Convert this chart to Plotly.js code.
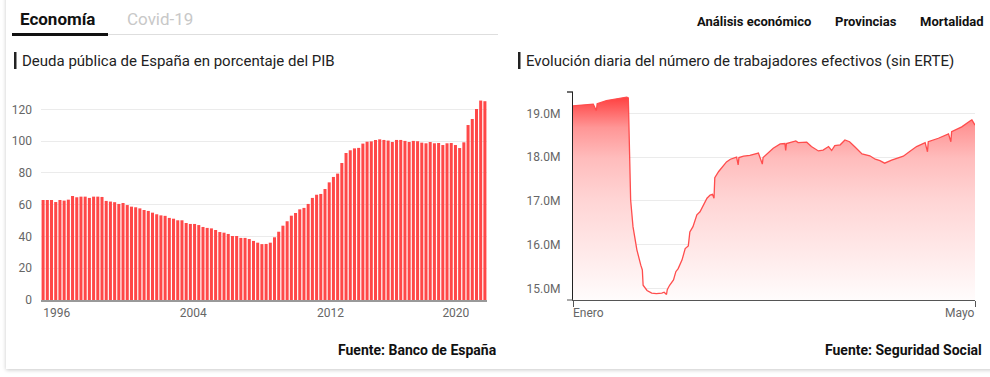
<!DOCTYPE html>
<html>
<head>
<meta charset="utf-8">
<script src="https://cdn.plot.ly/plotly-3.0.1.min.js"></script>
<style>
  html, body { margin: 0; padding: 0; background: #ffffff; overflow: hidden; }
  #card { position: absolute; left: 6px; top: -10px; width: 1000px; height: 379px; background: #fff;
          box-shadow: 0 1px 4px rgba(0,0,0,0.22); }
  #chart { position: absolute; left: 0; top: 0; width: 990px; height: 377px; }
</style>
</head>
<body>
<div id="card"></div>
<div id="chart"></div>
<script>
// ---------- Data: Deuda pública (% PIB), trimestral 1995T1 - 2021T2 ----------
const debtYears = [1995,1996,1997,1998,1999,2000,2001,2002,2003,2004,2005,2006,2007,2008,2009,2010,2011,2012,2013,2014,2015,2016,2017,2018,2019,2020,2021];
const debtValues = [
  63.0, 63.0, 63.0, 61.7,
  63.0, 62.6, 63.2, 65.5,
  64.7, 65.1, 65.1, 64.3,
  65.1, 65.1, 64.9, 62.4,
  62.0, 61.6, 60.5, 61.1,
  59.8, 58.8, 58.4, 57.7,
  56.7, 56.1, 55.0, 54.0,
  53.3, 53.0, 51.7, 51.2,
  50.2, 50.2, 48.5, 47.9,
  47.9, 47.2, 46.0, 45.4,
  45.1, 44.1, 42.8, 42.4,
  41.6, 40.3, 40.3, 39.1,
  39.1, 38.4, 37.2, 36.1,
  35.2, 35.3, 36.1, 39.5,
  43.0, 46.8, 49.6, 53.1,
  54.8, 57.1, 58.0, 60.5,
  64.3, 66.3, 66.8, 69.9,
  74.1, 77.5, 79.6, 86.3,
  92.6, 94.3, 95.5, 95.8,
  98.5, 99.7, 99.9, 100.7,
  101.2, 100.8, 100.4, 99.5,
  100.8, 100.8, 100.2, 99.5,
  100.2, 100.0, 99.1, 98.7,
  99.5, 98.7, 98.9, 97.6,
  98.7, 98.9, 97.6, 95.7,
  99.3, 110.2, 114.0, 120.3,
  125.6, 125.2
];
const debtTickLabels = ['1996', '2004', '2012', '2020'];
const debtTickPos = [3.25, 35.7, 68.3, 98.1];   // position on the quarter index axis
const debtYTicks = [0, 20, 40, 60, 80, 100, 120];

// quarter labels (categories)
const quarterLabels = [];
debtYears.forEach(y => { for (let q = 1; q <= 4; q++) quarterLabels.push(y + 'T' + q); });
quarterLabels.length = debtValues.length;
const quarterIndex = quarterLabels.map((_, i) => i);

// ---------- Data: trabajadores efectivos (millones), diario ----------
const workDates = [
  '2020-01-01','2020-01-06','2020-01-27','2020-01-31','2020-02-01','2020-02-13','2020-02-26','2020-03-10',
  '2020-03-12','2020-03-13','2020-03-15','2020-03-18','2020-03-23','2020-03-28','2020-03-30','2020-03-31',
  '2020-04-05','2020-04-11','2020-04-17','2020-04-24','2020-04-27','2020-04-30','2020-05-01','2020-05-04',
  '2020-05-09','2020-05-12','2020-05-15','2020-05-20','2020-05-24','2020-05-28','2020-05-30','2020-06-03',
  '2020-06-08','2020-06-12','2020-06-16','2020-06-21','2020-06-25','2020-06-28','2020-06-30','2020-07-01',
  '2020-07-06','2020-07-10','2020-07-16','2020-07-21','2020-07-27','2020-07-29','2020-07-31','2020-08-01',
  '2020-08-07','2020-08-15','2020-08-26','2020-08-31','2020-09-01','2020-09-14','2020-09-23','2020-09-29',
  '2020-09-30','2020-10-01','2020-10-13','2020-10-16','2020-10-27','2020-11-02','2020-11-11','2020-11-17',
  '2020-11-24','2020-11-28','2020-12-02','2020-12-09','2020-12-15','2020-12-21','2020-12-28','2021-01-06',
  '2021-01-16','2021-01-23','2021-01-29','2021-02-04','2021-02-13','2021-02-22','2021-02-28','2021-03-09',
  '2021-03-17','2021-03-28','2021-03-31','2021-04-01','2021-04-14','2021-04-27','2021-04-30','2021-05-01',
  '2021-05-14','2021-05-25','2021-05-27','2021-05-31'
];
const workValues = [
  19.17, 19.18, 19.21, 19.06, 19.22, 19.29, 19.33, 19.37,
  19.35, 18.62, 17.02, 16.41, 15.88, 15.53, 15.42, 15.07,
  14.95, 14.89, 14.88, 14.89, 14.91, 14.86, 14.97, 15.07,
  15.19, 15.38, 15.45, 15.65, 15.91, 15.97, 16.29, 16.41,
  16.68, 16.75, 16.90, 17.06, 17.13, 17.15, 17.06, 17.53,
  17.67, 17.75, 17.89, 17.95, 17.99, 18.00, 17.82, 17.99,
  18.02, 18.04, 18.09, 17.84, 17.99, 18.20, 18.30, 18.31,
  18.15, 18.31, 18.37, 18.33, 18.34, 18.24, 18.14, 18.16,
  18.24, 18.15, 18.26, 18.28, 18.39, 18.35, 18.23, 18.07,
  18.03, 17.95, 17.92, 17.86, 17.93, 17.99, 18.02, 18.14,
  18.24, 18.33, 18.12, 18.35, 18.43, 18.53, 18.35, 18.58,
  18.69, 18.83, 18.85, 18.73
];
const workYTicks = [15, 16, 17, 18, 19];
const workXLabels = ['Enero', 'Mayo'];

// ---------- Texts ----------
const tabs = ['Economía', 'Covid-19'];
const navItems = ['Análisis económico', 'Provincias', 'Mortalidad'];
const titleLeft = 'Deuda pública de España en porcentaje del PIB';
const titleRight = 'Evolución diaria del número de trabajadores efectivos (sin ERTE)';
const sourceLeft = 'Fuente: Banco de España';
const sourceRight = 'Fuente: Seguridad Social';

// ---------- Layout helpers (pixel -> paper) ----------
const W = 990, H = 377;
const px = x => x / W;
const py = y => (H - y) / H;

const FONT = 'Roboto, "Open Sans", sans-serif';
const RED = '#ff4848';

const xStart = workDates[0], xEnd = workDates[workDates.length - 1];

const traces = [
  {
    type: 'bar', x: quarterIndex, y: debtValues, text: quarterLabels, textposition: 'none',
    hovertemplate: '%{text}: %{y:.1f}%<extra></extra>',
    marker: { color: RED, line: { width: 0 } },
    xaxis: 'x', yaxis: 'y'
  },
  {
    type: 'scatter', mode: 'lines', x: workDates, y: workValues,
    line: { color: '#ff4d4d', width: 1.3 },
    fill: 'tozeroy',
    fillgradient: {
      type: 'vertical', start: 14.733, stop: 19.37,
      colorscale: [
        [0, 'rgb(255,252,252)'],
        [0.25, 'rgb(255,232,232)'],
        [0.5, 'rgb(255,212,212)'],
        [0.7, 'rgb(255,188,188)'],
        [0.85, 'rgb(255,150,150)'],
        [1, 'rgb(255,64,64)']
      ]
    },
    hovertemplate: '%{x}: %{y:.2f}M<extra></extra>',
    xaxis: 'x2', yaxis: 'y2'
  }
];

const gridC = '#ebebeb';
const tickFont = { family: FONT, size: 12, color: '#666' };

const layout = {
  width: W, height: H,
  margin: { l: 0, r: 0, t: 0, b: 0 },
  paper_bgcolor: 'rgba(0,0,0,0)', plot_bgcolor: 'rgba(0,0,0,0)',
  showlegend: false,
  bargap: 0.28,
  font: { family: FONT },
  xaxis: {
    domain: [px(41), px(487)], range: [-0.5, debtValues.length - 0.5],
    tickmode: 'array', tickvals: debtTickPos, ticktext: debtTickLabels,
    showgrid: false, zeroline: false, showline: true, linecolor: '#999', linewidth: 2,
    ticks: '', tickfont: tickFont, ticklabelstandoff: 1, fixedrange: true
  },
  yaxis: {
    domain: [py(300), py(92)], range: [0, 131],
    tickmode: 'array', tickvals: debtYTicks,
    showgrid: true, gridcolor: gridC, gridwidth: 1, zeroline: false, showline: false,
    ticks: '', tickfont: tickFont, ticklabelstandoff: 8, fixedrange: true
  },
  xaxis2: {
    anchor: 'y2',
    domain: [px(573), px(975)], range: [xStart, xEnd], type: 'date',
    tickmode: 'array', tickvals: [xStart, xEnd], ticktext: ['', ''],
    ticks: 'outside', ticklen: 6, tickcolor: '#555', tickwidth: 1,
    showgrid: false, zeroline: false, showline: true, linecolor: '#555', linewidth: 1, fixedrange: true
  },
  yaxis2: {
    anchor: 'x2',
    domain: [py(300), py(92)], range: [14.733, 19.487],
    tickmode: 'array', tickvals: workYTicks, ticktext: workYTicks.map(v => v.toFixed(1) + 'M'),
    showgrid: true, gridcolor: gridC, gridwidth: 1, zeroline: false,
    showline: true, linecolor: '#222', linewidth: 1.3,
    ticks: '', tickfont: tickFont, ticklabelstandoff: 9, fixedrange: true
  },
  shapes: [
    // tab underline
    { type: 'line', xref: 'paper', yref: 'paper', x0: px(108), x1: px(498), y0: py(34.5), y1: py(34.5), line: { color: '#dedede', width: 1 } },
    { type: 'rect', xref: 'paper', yref: 'paper', x0: px(12), x1: px(108), y0: py(36), y1: py(33), fillcolor: '#111', line: { width: 0 } },
    // title markers
    { type: 'rect', xref: 'paper', yref: 'paper', x0: px(14), x1: px(16.5), y0: py(69), y1: py(52), fillcolor: '#222', line: { width: 0 } },
    { type: 'rect', xref: 'paper', yref: 'paper', x0: px(518), x1: px(520.5), y0: py(69), y1: py(52), fillcolor: '#222', line: { width: 0 } },
    // right chart outer ticks of the y domain
    { type: 'line', xref: 'paper', yref: 'paper', x0: px(567), x1: px(573), y0: py(92), y1: py(92), line: { color: '#222', width: 1.3 } },
    { type: 'line', xref: 'paper', yref: 'paper', x0: px(567), x1: px(573), y0: py(300), y1: py(300), line: { color: '#555', width: 1 } }
  ],
  annotations: [
    { text: '<b>' + tabs[0] + '</b>', xref: 'paper', yref: 'paper', x: px(18), y: py(19), xanchor: 'left', yanchor: 'middle', showarrow: false, font: { family: FONT, size: 17, color: '#111' } },
    { text: tabs[1], xref: 'paper', yref: 'paper', x: px(125), y: py(19), xanchor: 'left', yanchor: 'middle', showarrow: false, font: { family: FONT, size: 17, color: '#c8c8c8' } },
    { text: '<b>' + navItems[0] + '</b>', xref: 'paper', yref: 'paper', x: px(695), y: py(22), xanchor: 'left', yanchor: 'middle', showarrow: false, font: { family: FONT, size: 13, color: '#111' } },
    { text: '<b>' + navItems[1] + '</b>', xref: 'paper', yref: 'paper', x: px(833), y: py(22), xanchor: 'left', yanchor: 'middle', showarrow: false, font: { family: FONT, size: 13, color: '#111' } },
    { text: '<b>' + navItems[2] + '</b>', xref: 'paper', yref: 'paper', x: px(986), y: py(22), xanchor: 'right', yanchor: 'middle', showarrow: false, font: { family: FONT, size: 13, color: '#111' } },
    { text: titleLeft, xref: 'paper', yref: 'paper', x: px(20), y: py(61), xanchor: 'left', yanchor: 'middle', showarrow: false, font: { family: FONT, size: 15, color: '#222' } },
    { text: titleRight, xref: 'paper', yref: 'paper', x: px(524), y: py(61), xanchor: 'left', yanchor: 'middle', showarrow: false, font: { family: FONT, size: 15, color: '#222' } },
    { text: '<b>' + sourceLeft + '</b>', xref: 'paper', yref: 'paper', x: px(499), y: py(350), xanchor: 'right', yanchor: 'middle', showarrow: false, font: { family: FONT, size: 14, color: '#111' } },
    { text: '<b>' + sourceRight + '</b>', xref: 'paper', yref: 'paper', x: px(984), y: py(350), xanchor: 'right', yanchor: 'middle', showarrow: false, font: { family: FONT, size: 14, color: '#111' } },
    { text: workXLabels[0], xref: 'x2', yref: 'paper', x: xStart, y: py(313), xanchor: 'left', yanchor: 'middle', xshift: -2, showarrow: false, font: tickFont },
    { text: workXLabels[1], xref: 'x2', yref: 'paper', x: xEnd, y: py(313), xanchor: 'right', yanchor: 'middle', xshift: 2, showarrow: false, font: tickFont }
  ]
};

Plotly.newPlot('chart', traces, layout, { displayModeBar: false, staticPlot: false, responsive: false });
</script>
</body>
</html>
